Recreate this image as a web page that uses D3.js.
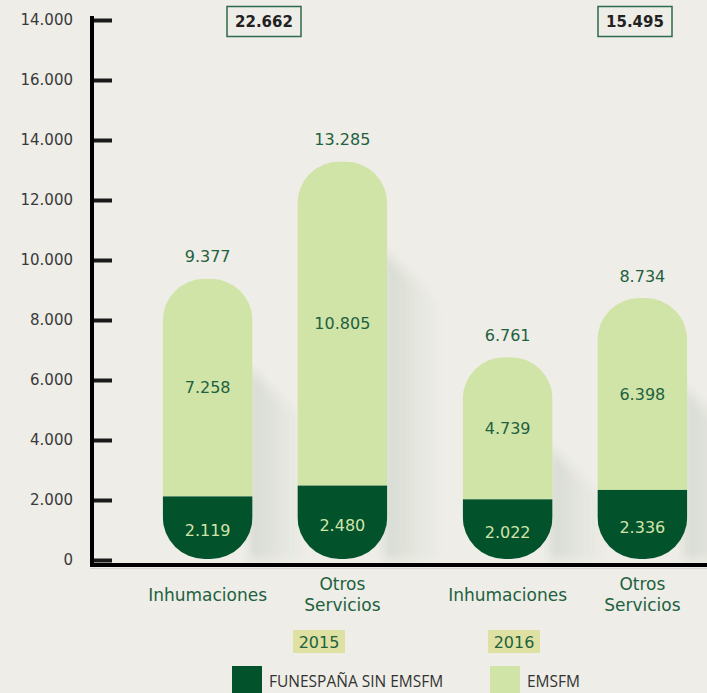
<!DOCTYPE html>
<html>
<head>
<meta charset="utf-8">
<script src="https://cdn.jsdelivr.net/npm/d3@7"></script>
<style>
  body { margin: 0; background: #eeede7; }
  svg { display: block; font-family: "DejaVu Sans", sans-serif; }
</style>
</head>
<body>
<script>
const years = ["2015", "2016"];
const categories = ["Inhumaciones", "Otros Servicios"];
// order: 2015 Inhumaciones, 2015 Otros, 2016 Inhumaciones, 2016 Otros
const funespana = [2119, 2480, 2022, 2336];
const emsfm = [7258, 10805, 4739, 6398];
const totals = [9377, 13285, 6761, 8734];
const yTicks = [0, 2000, 4000, 6000, 8000, 10000, 12000, 14000, 16000, 18000];
const yTickLabels = ["0", "2.000", "4.000", "6.000", "8.000", "10.000", "12.000", "14.000", "16.000", "14.000"];
const seriesNames = ["FUNESPAÑA SIN EMSFM", "EMSFM"];

const width = 707, height = 693;
const dark = "#02522c", light = "#d1e4a8", textGreen = "#1e6140";
const es = d3.formatLocale({ decimal: ",", thousands: ".", grouping: [3] }).format(",");

const rows = [];
years.forEach((yr, i) => categories.forEach((c, j) => {
  const k = i * 2 + j;
  rows.push({ year: yr, cat: c, base: funespana[k], top: emsfm[k], total: totals[k], k });
}));

const svg = d3.select('body').append('svg')
  .attr('width', width)
  .attr('height', height);

const y = d3.scaleLinear().domain([0, 18000]).range([560, 20]);
const x0 = d3.scaleBand().domain(years).range([125, 725]);
const x1 = d3.scaleBand().domain(categories).range([0, x0.bandwidth()])
  .paddingInner(0.333).paddingOuter(0.28);
const bw = x1.bandwidth();
const barX = d => x0(d.year) + x1(d.cat);
const bottom = y(0) - 1;

const defs = svg.append('defs');
const grad = defs.append('linearGradient').attr('id', 'shade')
  .attr('x1', 0).attr('y1', 0).attr('x2', 1).attr('y2', 0);
grad.append('stop').attr('offset', '0%').attr('stop-color', '#3d6048').attr('stop-opacity', 0.13);
grad.append('stop').attr('offset', '100%').attr('stop-color', '#3d6048').attr('stop-opacity', 0);
defs.append('filter').attr('id', 'blur').append('feGaussianBlur').attr('stdDeviation', 5);

// soft diagonal shadows
svg.append('g').selectAll('polygon')
  .data(rows)
  .join('polygon')
  .attr('points', d => {
    const r = barX(d) + bw - 3, t = y(d.total) + 90, L = 55;
    return [[r, t], [r + L, t + L], [r + L, bottom], [r, bottom]].join(' ');
  })
  .attr('fill', 'url(#shade)')
  .attr('filter', 'url(#blur)');

// clip paths for pill shapes
defs.selectAll('clipPath')
  .data(rows)
  .join('clipPath')
  .attr('id', d => `pill${d.k}`)
  .append('rect')
  .attr('x', d => barX(d))
  .attr('y', d => y(d.total))
  .attr('width', bw)
  .attr('height', d => bottom - y(d.total))
  .attr('rx', 42).attr('ry', 42);

const bars = svg.append('g').selectAll('g')
  .data(rows)
  .join('g')
  .attr('clip-path', d => `url(#pill${d.k})`);

bars.append('rect')
  .attr('x', d => barX(d))
  .attr('y', d => y(d.total))
  .attr('width', bw)
  .attr('height', d => y(d.base) - y(d.total))
  .attr('fill', light);

bars.append('rect')
  .attr('x', d => barX(d))
  .attr('y', d => y(d.base))
  .attr('width', bw)
  .attr('height', d => bottom - y(d.base))
  .attr('fill', dark);

// value labels
const labels = svg.append('g').attr('text-anchor', 'middle').style('font-size', '16px');
labels.selectAll('.tot').data(rows).join('text')
  .attr('class', 'tot')
  .attr('x', d => barX(d) + bw / 2)
  .attr('y', d => y(d.total) - 22)
  .attr('dy', '0.35em')
  .attr('fill', textGreen)
  .text(d => es(d.total));
labels.selectAll('.mid').data(rows).join('text')
  .attr('class', 'mid')
  .attr('x', d => barX(d) + bw / 2)
  .attr('y', d => (y(d.total) + y(d.base)) / 2)
  .attr('dy', '0.35em')
  .attr('fill', textGreen)
  .text(d => es(d.top));
labels.selectAll('.low').data(rows).join('text')
  .attr('class', 'low')
  .attr('x', d => barX(d) + bw / 2)
  .attr('y', d => (y(d.base) + bottom) / 2 + 3)
  .attr('dy', '0.35em')
  .attr('fill', light)
  .text(d => es(d.base));

// y axis
const yAxis = svg.append('g')
  .attr('transform', 'translate(94,0)')
  .call(d3.axisLeft(y).tickValues(yTicks)
    .tickFormat((d, i) => yTickLabels[i])
    .tickSizeInner(-18).tickSizeOuter(0).tickPadding(21));
yAxis.select('.domain').remove();
yAxis.selectAll('.tick line').attr('stroke', '#1a1a1a').attr('stroke-width', 4);
yAxis.selectAll('.tick text')
  .attr('fill', '#3a3a3a')
  .style('font-size', '15px')
  .style('font-family', '"DejaVu Sans", sans-serif');

svg.append('line')
  .attr('x1', 92).attr('x2', 92).attr('y1', 16).attr('y2', y(0) + 7)
  .attr('stroke', '#000').attr('stroke-width', 4);
svg.append('line')
  .attr('x1', 90).attr('x2', width).attr('y1', y(0) + 5).attr('y2', y(0) + 5)
  .attr('stroke', '#000').attr('stroke-width', 4);
svg.append('line')
  .attr('x1', 90).attr('x2', width).attr('y1', y(0) + 8.5).attr('y2', y(0) + 8.5)
  .attr('stroke', '#d8d8d2').attr('stroke-width', 1);

// category labels (two-line for Otros Servicios)
const cats = svg.append('g').attr('text-anchor', 'middle')
  .style('font-size', '17px').attr('fill', textGreen);
rows.forEach(d => {
  const words = d.cat === "Otros Servicios" ? ["Otros", "Servicios"] : [d.cat];
  words.forEach((w, i) => cats.append('text')
    .attr('x', barX(d) + bw / 2)
    .attr('y', words.length > 1 ? 584 + i * 21 : 595)
    .attr('dy', '0.35em')
    .text(w));
});

// year labels with highlight
const yearOffset = [44, -61];
years.forEach((yr, i) => {
  const cx = x0(yr) + x0.bandwidth() / 2 + yearOffset[i];
  svg.append('rect').attr('x', cx - 26).attr('y', 630).attr('width', 52).attr('height', 23)
    .attr('fill', '#dfe1a2');
  svg.append('text').attr('x', cx).attr('y', 642).attr('dy', '0.35em')
    .attr('text-anchor', 'middle').attr('fill', textGreen).style('font-size', '16px')
    .text(yr);
});

// year totals boxes
const boxOffset = [-11, 60];
years.forEach((yr, i) => {
  const cx = x0(yr) + x0.bandwidth() / 2 + boxOffset[i];
  const sum = d3.sum(rows.filter(r => r.year === yr), r => r.total);
  svg.append('rect').attr('x', cx - 37).attr('y', 6.5).attr('width', 74).attr('height', 30)
    .attr('fill', 'none').attr('stroke', '#2e6b4c').attr('stroke-width', 1.5);
  svg.append('text').attr('x', cx).attr('y', 22).attr('dy', '0.35em')
    .attr('text-anchor', 'middle').attr('fill', '#222').style('font-size', '15px')
    .style('font-weight', 'bold').text(es(sum));
});

// legend
const legend = svg.append('g');
const legendX = [232, 490];
seriesNames.forEach((name, i) => {
  legend.append('rect').attr('x', legendX[i]).attr('y', 666).attr('width', 30).attr('height', 30)
    .attr('fill', i === 0 ? dark : light);
  legend.append('text').attr('x', legendX[i] + 37).attr('y', 682).attr('dy', '0.35em')
    .attr('fill', '#333').style('font-size', '15.5px')
    .style('font-family', '"Open Sans", sans-serif').text(name);
});
</script>
</body>
</html>
